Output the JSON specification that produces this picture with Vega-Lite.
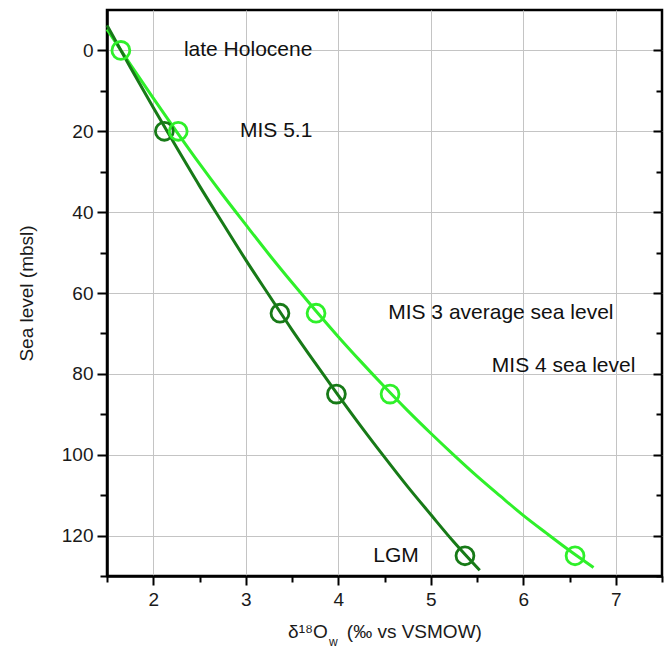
{
  "$schema": "https://vega.github.io/schema/vega-lite/v6.json",
  "width": 555,
  "height": 566,
  "autosize": {"type": "none"},
  "padding": {"left": 107, "top": 10, "right": 3, "bottom": 76},
  "background": "white",
  "config": {
    "view": {"stroke": "black", "strokeWidth": 2.5},
    "font": "Liberation Sans",
    "axis": {"labelFont": "Liberation Sans", "titleFont": "Liberation Sans", "labelColor": "#1a1a1a", "titleColor": "#1a1a1a", "tickColor": "black", "domainColor": "black"}
  },
  "datasets": {
    "curves": [
      {"series": "light", "d18O": 1.5, "sl": -5.2},
      {"series": "light", "d18O": 1.75, "sl": 3.4},
      {"series": "light", "d18O": 2.0, "sl": 11.8},
      {"series": "light", "d18O": 2.25, "sl": 20.0},
      {"series": "light", "d18O": 2.5, "sl": 28.0},
      {"series": "light", "d18O": 2.75, "sl": 35.7},
      {"series": "light", "d18O": 3.0, "sl": 43.1},
      {"series": "light", "d18O": 3.25, "sl": 50.4},
      {"series": "light", "d18O": 3.5, "sl": 57.4},
      {"series": "light", "d18O": 3.75, "sl": 64.2},
      {"series": "light", "d18O": 4.0, "sl": 70.8},
      {"series": "light", "d18O": 4.25, "sl": 77.1},
      {"series": "light", "d18O": 4.5, "sl": 83.2},
      {"series": "light", "d18O": 4.75, "sl": 89.1},
      {"series": "light", "d18O": 5.0, "sl": 94.7},
      {"series": "light", "d18O": 5.25, "sl": 100.1},
      {"series": "light", "d18O": 5.5, "sl": 105.3},
      {"series": "light", "d18O": 5.75, "sl": 110.2},
      {"series": "light", "d18O": 6.0, "sl": 115.0},
      {"series": "light", "d18O": 6.25, "sl": 119.4},
      {"series": "light", "d18O": 6.5, "sl": 123.7},
      {"series": "light", "d18O": 6.76, "sl": 127.9},
      {"series": "dark", "d18O": 1.5, "sl": -6.2},
      {"series": "dark", "d18O": 1.75, "sl": 4.1},
      {"series": "dark", "d18O": 2.0, "sl": 14.1},
      {"series": "dark", "d18O": 2.25, "sl": 23.9},
      {"series": "dark", "d18O": 2.5, "sl": 33.5},
      {"series": "dark", "d18O": 2.75, "sl": 42.7},
      {"series": "dark", "d18O": 3.0, "sl": 51.8},
      {"series": "dark", "d18O": 3.25, "sl": 60.5},
      {"series": "dark", "d18O": 3.5, "sl": 69.1},
      {"series": "dark", "d18O": 3.75, "sl": 77.3},
      {"series": "dark", "d18O": 4.0, "sl": 85.3},
      {"series": "dark", "d18O": 4.25, "sl": 93.1},
      {"series": "dark", "d18O": 4.5, "sl": 100.6},
      {"series": "dark", "d18O": 4.75, "sl": 107.9},
      {"series": "dark", "d18O": 5.0, "sl": 114.8},
      {"series": "dark", "d18O": 5.25, "sl": 121.6},
      {"series": "dark", "d18O": 5.53, "sl": 128.6}
    ],
    "points": [
      {"series": "dark", "d18O": 2.12, "sl": 20},
      {"series": "dark", "d18O": 3.37, "sl": 65},
      {"series": "dark", "d18O": 3.98, "sl": 85},
      {"series": "dark", "d18O": 5.37, "sl": 125},
      {"series": "light", "d18O": 1.65, "sl": 0},
      {"series": "light", "d18O": 2.27, "sl": 20},
      {"series": "light", "d18O": 3.76, "sl": 65},
      {"series": "light", "d18O": 4.56, "sl": 85},
      {"series": "light", "d18O": 6.56, "sl": 125}
    ],
    "labelsRight": [
      {"label": "late Holocene", "d18O": 3.72, "sl": 0},
      {"label": "MIS 5.1", "d18O": 3.72, "sl": 20},
      {"label": "LGM", "d18O": 4.87, "sl": 125}
    ],
    "labelsLeft": [
      {"label": "MIS 3 average sea level", "d18O": 4.54, "sl": 65},
      {"label": "MIS 4 sea level", "d18O": 5.66, "sl": 78}
    ],
    "sub": [
      {"t": "w", "d18O": 3.9, "sl": 130}
    ]
  },
  "resolve": {"axis": {"x": "independent", "y": "independent"}},
  "layer": [
    {
      "data": {"name": "curves"},
      "mark": {"type": "line", "strokeWidth": 3, "interpolate": "monotone"},
      "encoding": {
        "x": {"field": "d18O", "type": "quantitative", "scale": {"domain": [1.5, 7.5], "nice": false, "zero": false},
          "axis": {"orient": "bottom", "values": [2, 3, 4, 5, 6, 7], "grid": true, "gridColor": "#c4c4c4", "gridWidth": 1, "tickSize": 9, "tickWidth": 2, "domainWidth": 2.5, "labelFontSize": 19, "labelPadding": 5, "title": "δ¹⁸O\u2002\u2002(‰ vs VSMOW)", "titleFontSize": 19, "titleFontWeight": "normal", "titlePadding": 13}},
        "y": {"field": "sl", "type": "quantitative", "scale": {"domain": [-10, 130], "reverse": true, "nice": false, "zero": false},
          "axis": {"orient": "left", "values": [0, 20, 40, 60, 80, 100, 120], "grid": true, "gridColor": "#c4c4c4", "gridWidth": 1, "tickSize": 10, "tickWidth": 2, "domainWidth": 2.5, "labelFontSize": 19, "labelPadding": 4, "title": "Sea level (mbsl)", "titleFontSize": 19, "titleFontWeight": "normal", "titlePadding": 25}},
        "color": {"field": "series", "type": "nominal", "scale": {"domain": ["light", "dark"], "range": ["#2ff02a", "#177a17"]}, "legend": null},
        "order": {"field": "series"}
      }
    },
    {
      "data": {"name": "points"},
      "mark": {"type": "point", "shape": "circle", "filled": false, "size": 320, "strokeWidth": 2.8, "opacity": 1},
      "encoding": {
        "x": {"field": "d18O", "type": "quantitative",
          "axis": {"orient": "bottom", "values": [1.5, 2.5, 3.5, 4.5, 5.5, 6.5, 7.5], "labels": false, "grid": false, "domain": false, "tickSize": 6, "tickWidth": 2, "title": null}},
        "y": {"field": "sl", "type": "quantitative",
          "axis": {"orient": "left", "values": [10, 30, 50, 70, 90, 110, 130], "labels": false, "grid": false, "domain": false, "tickSize": 7, "tickWidth": 2, "title": null}},
        "color": {"field": "series", "type": "nominal", "legend": null}
      }
    },
    {
      "data": {"name": "labelsRight"},
      "mark": {"type": "text", "fontSize": 21, "baseline": "middle", "align": "right", "color": "#111"},
      "encoding": {
        "x": {"field": "d18O", "type": "quantitative", "axis": null},
        "y": {"field": "sl", "type": "quantitative",
          "axis": {"orient": "right", "values": [0, 20, 40, 60, 80, 100, 120], "labels": false, "grid": false, "domain": false, "tickSize": -9, "tickWidth": 2, "title": null}},
        "text": {"field": "label"}
      }
    },
    {
      "data": {"name": "labelsLeft"},
      "mark": {"type": "text", "fontSize": 21, "baseline": "middle", "align": "left", "color": "#111"},
      "encoding": {
        "x": {"field": "d18O", "type": "quantitative", "axis": null},
        "y": {"field": "sl", "type": "quantitative",
          "axis": {"orient": "right", "values": [10, 30, 50, 70, 90, 110, 130], "labels": false, "grid": false, "domain": false, "tickSize": -6, "tickWidth": 2, "title": null}},
        "text": {"field": "label"}
      }
    },
    {
      "data": {"name": "sub"},
      "mark": {"type": "text", "fontSize": 12, "baseline": "middle", "align": "left", "dy": 66, "color": "#1a1a1a"},
      "encoding": {
        "x": {"field": "d18O", "type": "quantitative", "axis": null},
        "y": {"field": "sl", "type": "quantitative", "axis": null},
        "text": {"field": "t"}
      }
    }
  ]
}
